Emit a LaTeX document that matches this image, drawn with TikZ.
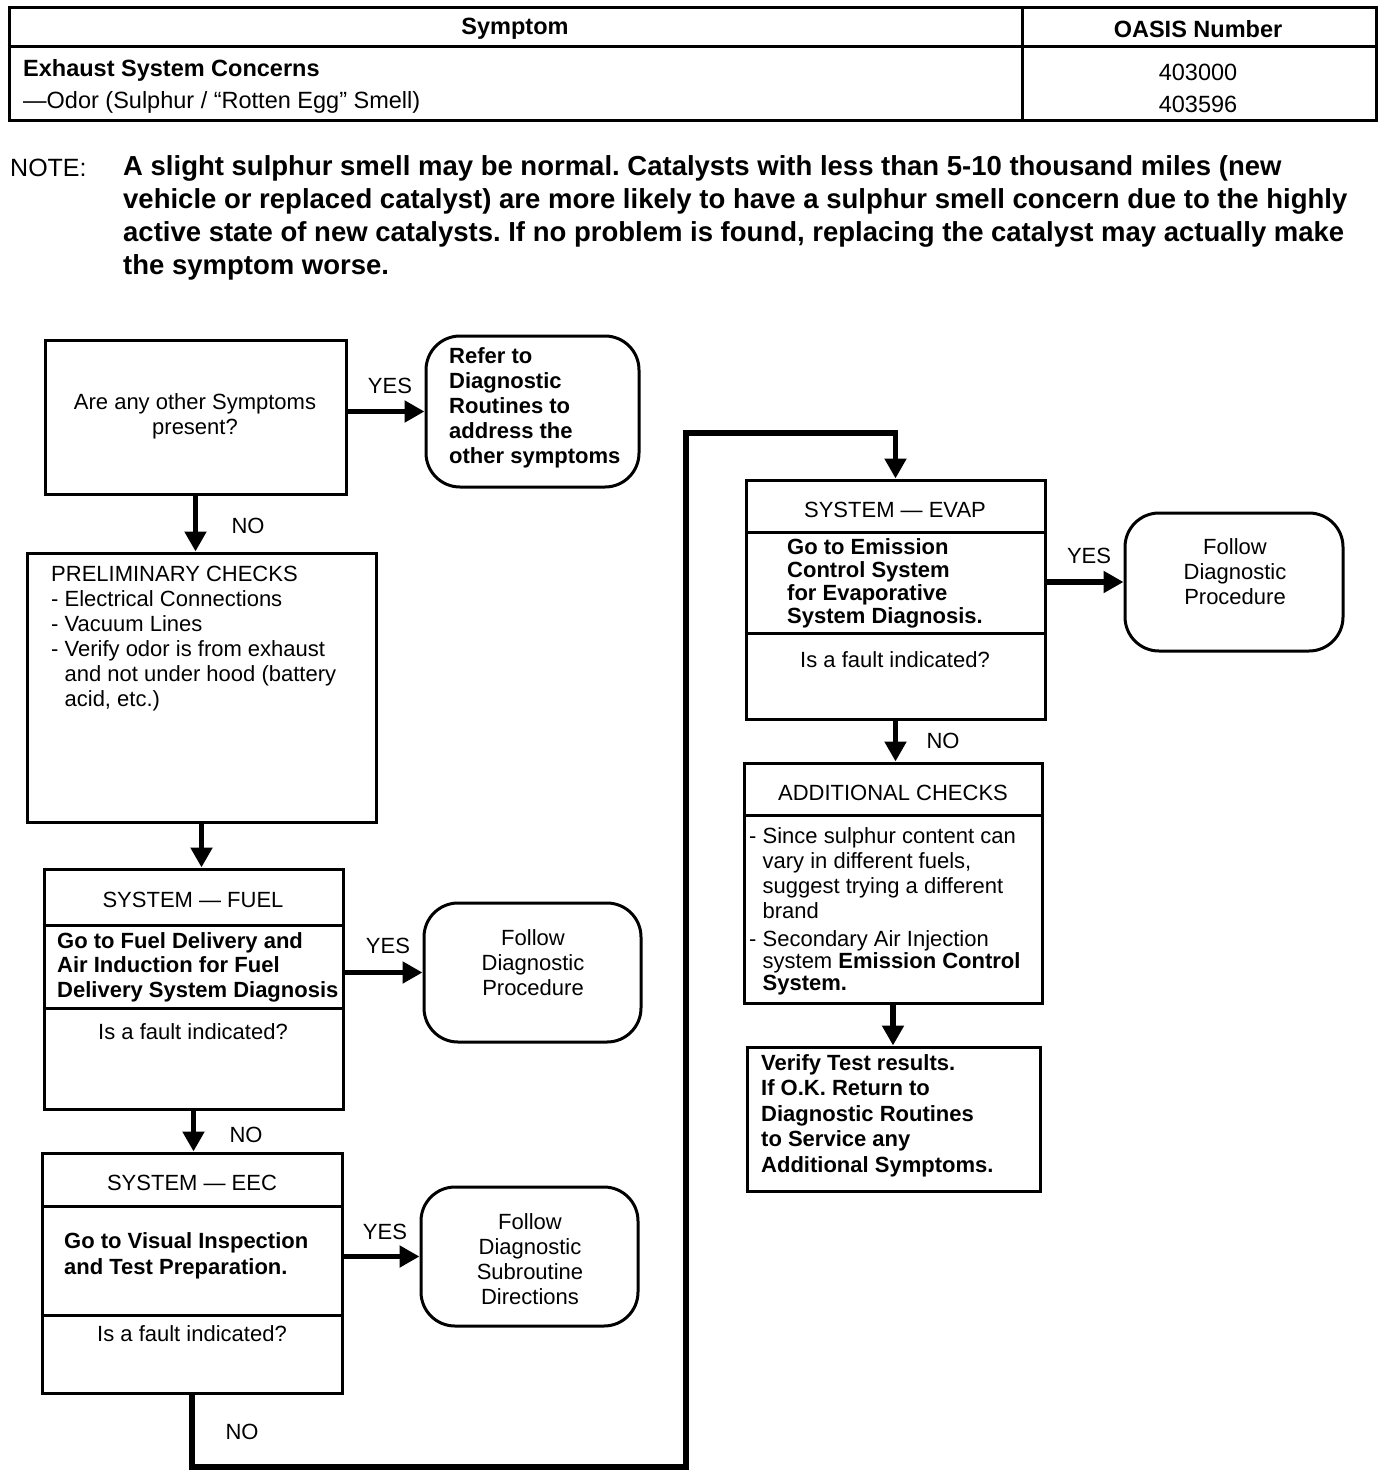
\documentclass[tikz,border=0pt]{standalone}
\usepackage{fontspec}
\setmainfont{Liberation Sans}
\usetikzlibrary{arrows.meta,fit}
\frenchspacing
\newcommand{\fz}[2]{\fontsize{#1}{#2}\selectfont}
\tikzset{
  frame/.style={draw, line width=3pt, inner sep=0pt},
  rbox/.style={draw, line width=3pt, inner sep=0pt, rounded corners=34pt},
  sep/.style={line width=3pt},
  arr/.style={line width=5.5pt, -{Triangle[length=20pt,width=21pt]}},
  tl/.style={anchor=north west, align=left, inner sep=0pt},
  tc/.style={align=center, inner sep=0pt},
  rf/.style={font=\fz{22}{25}},
  bf/.style={font=\fz{22}{25}\bfseries},
}
\begin{document}
\begin{tikzpicture}[x=1pt,y=-1pt]
\useasboundingbox (0,0) rectangle (1392,1474);
% table
\node[frame, fit={(9,8) (1376,121)}] (tbl) {};
\draw[sep] (tbl.west |- 0,47) -- (tbl.east |- 0,47);
\draw[sep] (1022,8) -- (1022,121);
\node[tc, font=\fz{23.5}{25}\bfseries] (hs) at (515,29) {Symptom};
\node[tc, font=\fz{23.5}{25}\bfseries] (ho) at (1198,29) {OASIS Number};
\node[anchor=west, inner sep=0pt, font=\fz{23.5}{25}\bfseries] (r1a) at (23,70) {Exhaust System Concerns};
\node[anchor=west, inner sep=0pt, font=\fz{23.5}{25}] (r2a) at (23,102) {---Odor (Sulphur / ``Rotten Egg'' Smell)};
\node[tc, font=\fz{23.5}{25}] (r1b) at (1198,72) {403000};
\node[tc, font=\fz{23.5}{25}] (r2b) at (1198,104) {403596};
% note
\node[anchor=west, inner sep=0pt, font=\fz{25}{33}] (nt) at (10,168) {NOTE:};
\node[tl, font=\fz{27.5}{33}\bfseries] (ntx) at (123,155) {A slight sulphur smell may be normal. Catalysts with less than 5-10 thousand miles (new\\vehicle or replaced catalyst) are more likely to have a sulphur smell concern due to the highly\\active state of new catalysts. If no problem is found, replacing the catalyst may actually make\\the symptom worse.};
% flow boxes
\node[frame, fit={(45,340) (346,494)}] (b1) {};
\node[tc, rf] (t1) at (195,416) {Are any other Symptoms\\present?};
\node[rbox, fit={(426,336) (639,487)}] (q1) {};
\node[tl, bf] (tq1) at (449,347) {Refer to\\Diagnostic\\Routines to\\address the\\other symptoms};
\node[frame, fit={(27,553) (376,822)}] (b2) {};
\node[tl, rf] (t2) at (51,566) {PRELIMINARY CHECKS\\- Electrical Connections\\- Vacuum Lines\\- Verify odor is from exhaust\\\hphantom{- }and not under hood (battery\\\hphantom{- }acid, etc.)};
% fuel
\node[frame, fit={(44,869) (343,1109)}] (b3) {};
\draw[sep] (b3.west |- 0,925) -- (b3.east |- 0,925);
\draw[sep] (b3.west |- 0,1008) -- (b3.east |- 0,1008);
\node[tc, rf] (t3a) at (193,900) {SYSTEM --- FUEL};
\node[tl, font=\fz{22}{24.5}\bfseries] (t3b) at (57,932) {Go to Fuel Delivery and\\Air Induction for Fuel\\Delivery System Diagnosis};
\node[tc, rf] (t3c) at (193,1032) {Is a fault indicated?};
\node[rbox, fit={(424,903) (641,1042)}] (q2) {};
\node[tc, rf] (tq2) at (533,963) {Follow\\Diagnostic\\Procedure};
% eec
\node[frame, fit={(42,1153) (342,1393)}] (b4) {};
\draw[sep] (b4.west |- 0,1206) -- (b4.east |- 0,1206);
\draw[sep] (b4.west |- 0,1315) -- (b4.east |- 0,1315);
\node[tc, rf] (t4a) at (192,1183) {SYSTEM --- EEC};
\node[tl, font=\fz{22}{26}\bfseries] (t4b) at (64,1232) {Go to Visual Inspection\\and Test Preparation.};
\node[tc, rf] (t4c) at (192,1334) {Is a fault indicated?};
\node[rbox, fit={(421,1187) (638,1326)}] (q3) {};
\node[tc, rf] (tq3) at (530,1259.5) {Follow\\Diagnostic\\Subroutine\\Directions};
% evap
\node[frame, fit={(746,480) (1045,719)}] (b5) {};
\draw[sep] (b5.west |- 0,532) -- (b5.east |- 0,532);
\draw[sep] (b5.west |- 0,633) -- (b5.east |- 0,633);
\node[tc, rf] (t5a) at (895,510) {SYSTEM --- EVAP};
\node[tl, font=\fz{22}{23}\bfseries] (t5b) at (787,538) {Go to Emission\\Control System\\for Evaporative\\System Diagnosis.};
\node[tc, rf] (t5c) at (895,660) {Is a fault indicated?};
\node[rbox, fit={(1125,513) (1343,651)}] (q4) {};
\node[tc, rf] (tq4) at (1235,572) {Follow\\Diagnostic\\Procedure};
% additional
\node[frame, fit={(744,763) (1042,1003)}] (b6) {};
\draw[sep] (b6.west |- 0,815) -- (b6.east |- 0,815);
\node[tc, rf] (t6a) at (893,793) {ADDITIONAL CHECKS};
\node[tl, rf] (t6b) at (749,827) {- Since sulphur content can\\\hphantom{- }vary in different fuels,\\\hphantom{- }suggest trying a different\\\hphantom{- }brand};
\node[tl, font=\fz{22}{22}] (t6c) at (749,930) {- Secondary Air Injection\\\hphantom{- }system \textbf{Emission Control}\\\hphantom{- }\textbf{System.}};
% verify
\node[frame, fit={(747,1047) (1040,1191)}] (b7) {};
\node[tl, font=\fz{22}{25.5}\bfseries] (t7) at (761,1054) {Verify Test results.\\If O.K. Return to\\Diagnostic Routines\\to Service any\\Additional Symptoms.};
% connectors
\draw[arr] (b1.east |- q1.west) -- (q1.west);
\node[tc, rf] (y1) at (390,386) {YES};
\draw[arr] (b1.south) -- (b1.south |- b2.north);
\node[tc, rf] (n1) at (248,526) {NO};
\draw[arr] (b2.south) -- (b2.south |- b3.north);
\draw[arr] (b3.east |- q2.west) -- (q2.west);
\node[tc, rf] (y2) at (388,946) {YES};
\draw[arr] (b3.south) -- (b3.south |- b4.north);
\node[tc, rf] (n2) at (246,1135) {NO};
\draw[arr] (b4.east |- q3.west) -- (q3.west);
\node[tc, rf] (y3) at (385,1232) {YES};
\coordinate (ca) at (686,1467);
\coordinate (cb) at (686,433);
\draw[arr] (b4.south) |- (ca) -- (cb) -| (b5.north);
\node[tc, rf] (n3) at (242,1432) {NO};
\draw[arr] (b5.east |- q4.west) -- (q4.west);
\node[tc, rf] (y4) at (1089,556) {YES};
\draw[arr] (b5.south) -- (b5.south |- b6.north);
\node[tc, rf] (n4) at (943,741) {NO};
\draw[arr] (b6.south) -- (b6.south |- b7.north);
\end{tikzpicture}
\end{document}
